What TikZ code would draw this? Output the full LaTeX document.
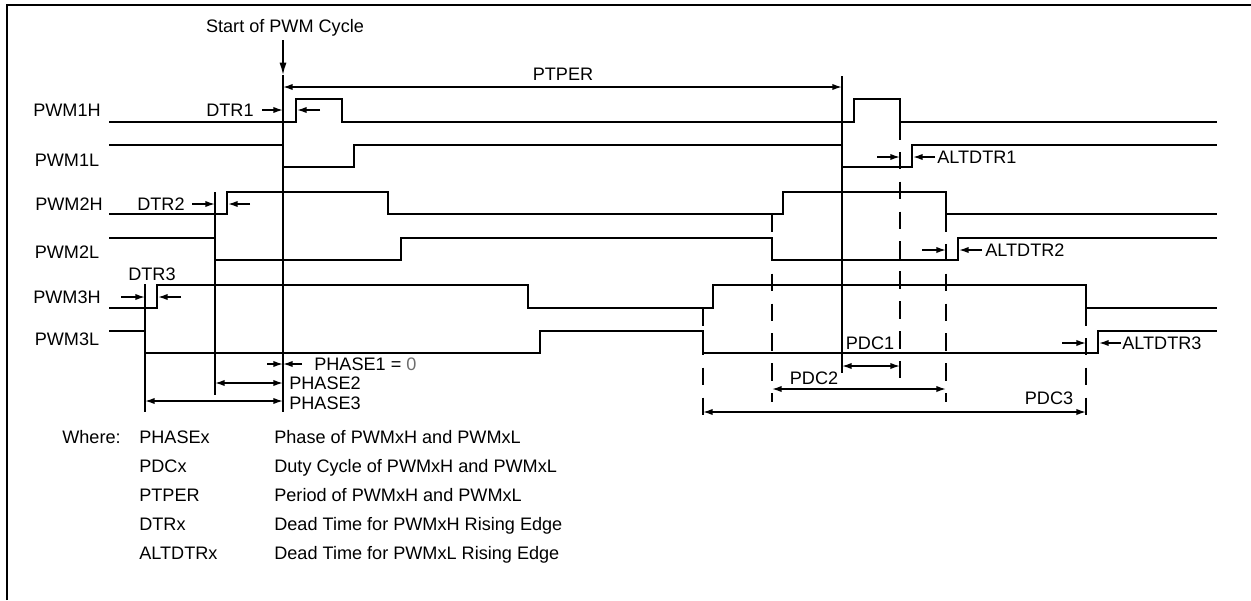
\documentclass[tikz,border=0pt]{standalone}
\usepackage{fontspec}
\setmainfont{Liberation Sans}
\usetikzlibrary{arrows.meta,positioning}
\definecolor{ZeroGray}{RGB}{110,110,110}
\tikzset{
  frameline/.style={line width=1.1pt},
  wave/.style={line width=0.85pt,line join=miter},
  marker/.style={line width=0.85pt},
  dashmark/.style={line width=0.85pt,dash pattern=on 10pt off 7pt},
  tick/.style={-{Latex[length=5.5pt,width=3.6pt]},line width=0.85pt},
  bigtick/.style={-{Latex[length=7pt,width=4pt]},line width=0.85pt},
  span/.style={{Latex[length=5.5pt,width=3.6pt]}-{Latex[length=5.5pt,width=3.6pt]},line width=0.85pt},
  txt/.style={font=\fontsize{10.3}{12}\selectfont,inner sep=0pt,
    text height=7.4pt,text depth=0pt},
  signame/.style={txt,anchor=center},
  note/.style={txt,anchor=west}
}
\begin{document}
\begin{tikzpicture}[x=0.02cm,y=-0.02cm]
\useasboundingbox (0,0) rectangle (1251,600);
% frame
\draw[frameline] (7,600) -- (7,5) -- (1251,5);

% signal names
\node[signame] (n1h) at (67,110) {PWM1H};
\node[signame] (n1l) at (67,160) {PWM1L};
\node[signame] (n2h) at (69,204) {PWM2H};
\node[signame] (n2l) at (67,252) {PWM2L};
\node[signame] (n3h) at (67,297) {PWM3H};
\node[signame] (n3l) at (67,339) {PWM3L};

% start of cycle and period
\node[signame] (start) at (285,26) {Start of PWM Cycle};
\coordinate (startin) at (283,40);
\coordinate (t0) at (283,75);
\draw[bigtick] (startin) -- (t0);
\draw[marker] (t0) -- (283,412);
\draw[marker] (842,76) -- (842,373);
\draw[span] (283,87) -- (842,87);
\node[signame] (ptper) at (563,74) {PTPER};

% waveforms
\draw[wave] (109,122) -- (296,122) -- (296,99) -- (342,99) -- (342,122)
  -- (854,122) -- (854,99) -- (900,99) -- (900,122) -- (1217,122);
\draw[wave] (109,145) -- (283,145) -- (283,167) -- (354,167) -- (354,145)
  -- (842,145) -- (842,167) -- (912,167) -- (912,145) -- (1217,145);
\draw[wave] (109,214) -- (227,214) -- (227,192) -- (388,192) -- (388,214)
  -- (783,214) -- (783,192) -- (946,192) -- (946,214) -- (1217,214);
\draw[wave] (109,238) -- (215,238) -- (215,260) -- (401,260) -- (401,238)
  -- (772,238) -- (772,260) -- (958,260) -- (958,238) -- (1217,238);
\draw[wave] (109,308) -- (157,308) -- (157,285) -- (528,285) -- (528,308)
  -- (713,308) -- (713,285) -- (1086,285) -- (1086,308) -- (1217,308);
\draw[wave] (109,331) -- (145,331) -- (145,353) -- (540,353) -- (540,331)
  -- (703,331) -- (703,353) -- (1098,353) -- (1098,331) -- (1217,331);

% phase markers
\draw[marker] (215,192) -- (215,395);
\draw[marker] (145,284) -- (145,412);

% duty cycle markers
\draw[dashmark] (900,122) -- (900,378);
\draw[dashmark] (772,214) -- (772,402);
\draw[dashmark] (946,214) -- (946,402);
\draw[dashmark] (703,308) -- (703,425);
\draw[dashmark] (1086,308) -- (1086,425);

% dead times
\node[signame] (dtr1) at (230,110) {DTR1};
\draw[tick] (262,110) -- (283,110);
\draw[tick] (320,110) -- (297,110);
\node[signame] (dtr2) at (161,204) {DTR2};
\draw[tick] (192,204) -- (215,204);
\draw[tick] (250,204) -- (228,204);
\node[signame] (dtr3) at (152,274) {DTR3};
\draw[tick] (121,297) -- (145,297);
\draw[tick] (181,297) -- (158,297);
\draw[tick] (877,157) -- (900,157);
\draw[tick] (935,157) -- (913,157);
\node[note] (altdtr1) at (937,157) {ALTDTR1};
\draw[tick] (922,250) -- (946,250);
\draw[tick] (982,250) -- (959,250);
\node[note] (altdtr2) at (985,250) {ALTDTR2};
\draw[tick] (1062,343) -- (1086,343);
\draw[tick] (1121,343) -- (1099,343);
\node[note] (altdtr3) at (1122,343) {ALTDTR3};

% phases
\draw[tick] (267,364) -- (283,364);
\draw[tick] (302,364) -- (283,364);
\node[note] (phase1) at (314,364) {PHASE1 = {\color{ZeroGray}0}};
\draw[span] (215,383) -- (283,383);
\node[note] (phase2) at (289,383) {PHASE2};
\draw[span] (145,401) -- (283,401);
\node[note] (phase3) at (289,403) {PHASE3};

% duty cycles
\draw[span] (842,366) -- (900,366);
\node[signame] (pdc1) at (870,343) {PDC1};
\draw[span] (772,389) -- (946,389);
\node[signame] (pdc2) at (814,378) {PDC2};
\draw[span] (703,412) -- (1086,412);
\node[signame] (pdc3) at (1049,398) {PDC3};

% legend
\node[note] (where) at (62,437) {Where:};
\node[note] (kphase) at (139,437) {PHASEx};
\node[note] (kpdc) at (139,466) {PDCx};
\node[note] (kptper) at (139,495) {PTPER};
\node[note] (kdtr) at (139,524) {DTRx};
\node[note] (kalt) at (139,553) {ALTDTRx};
\node[note] (dphase) at (274,437) {Phase of PWMxH and PWMxL};
\node[note] (dpdc) at (274,466) {Duty Cycle of PWMxH and PWMxL};
\node[note] (dptper) at (274,495) {Period of PWMxH and PWMxL};
\node[note] (ddtr) at (274,524) {Dead Time for PWMxH Rising Edge};
\node[note] (dalt) at (274,553) {Dead Time for PWMxL Rising Edge};
\end{tikzpicture}
\end{document}
